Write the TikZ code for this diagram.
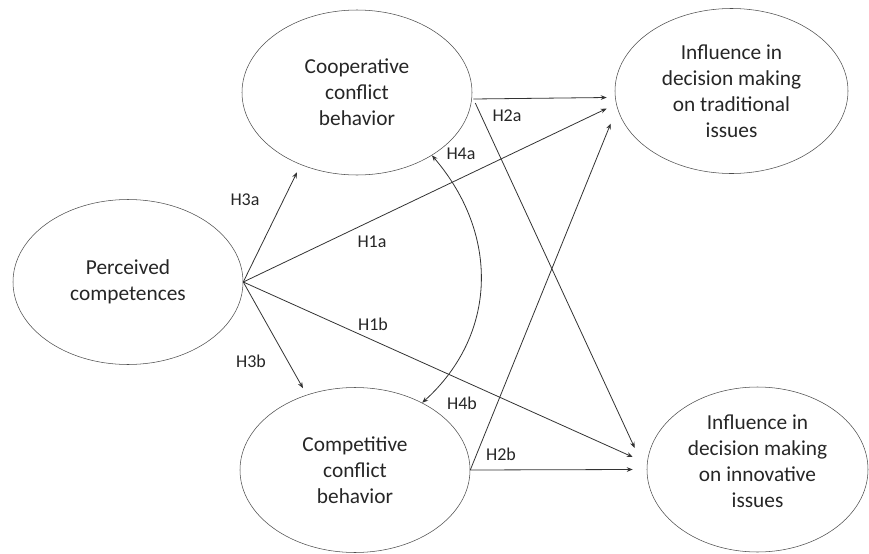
\documentclass[tikz,border=0pt]{standalone}
\usepackage{fontspec}
\setmainfont{Carlito}
\usetikzlibrary{shapes.geometric,arrows.meta}

\begin{document}
\begin{tikzpicture}[
  x=0.75pt, y=-0.75pt,
  font=\fontsize{16}{19.5}\selectfont,
  ell/.style={draw=black!70, ellipse, inner sep=0pt, align=center,
              text=black!85, minimum width=172.5pt, minimum height=123.75pt},
  arr/.style={->, >={Stealth[length=4.5pt, width=3.5pt]}, line width=0.6pt, black!80},
  hyp/.style={font=\fontsize{13.5}{16}\selectfont, text=black!85}
]
  \useasboundingbox (0,0) rectangle (869,554);

  \node[ell] (pc)   at (128,282)     {Perceived\\competences};
  \node[ell] (coop) at (357,92.5)    {Cooperative\\conflict\\behavior};
  \node[ell] (comp) at (355,470)     {Competitive\\conflict\\behavior};
  \node[ell, minimum width=174.75pt] (trad) at (731.5,91)
    {Influence in\\decision making\\on traditional\\issues};
  \node[ell, minimum width=165.75pt] (inno) at (757.5,469.5) {};
  \node[align=center, text=black!85] (innotxt) at (757.5,461.5)
    {Influence in\\decision making\\on innovative\\issues};

  %% perceived competences -> conflict behavior
  \draw[arr] (pc.east) -- ([shift={(-60,-3)}]coop.south);
  \draw[arr] (pc.east) -- ([shift={(-52,1)}]comp.north);

  %% perceived competences -> influence
  \draw[arr] (pc.east) -- ([shift={(-8,17.5)}]trad.west);
  \draw[arr] (pc.east) -- ([shift={(-14,-12.5)}]inno.west);

  %% cooperative -> influence
  \draw[arr] ([shift={(1,6.5)}]coop.east) -- ([shift={(-8,6.5)}]trad.west);
  \draw[arr] ([shift={(3,10.5)}]coop.east) -- ([shift={(-12,-21.5)}]inno.west);

  %% competitive -> influence
  \draw[arr] (comp.east) -- ([shift={(-4,32.5)}]trad.west);
  \draw[arr] (comp.east) -- ([shift={(-14,0)}]inno.west);

  %% cooperative <-> competitive
  \draw[arr, <->] (coop.-40) .. controls (500,235) and (497,335) .. (comp.45);

  \node[hyp] (h3a) at (245,200) {H3a};
  \node[hyp] (h1a) at (372,242) {H1a};
  \node[hyp] (h4a) at (461,154) {H4a};
  \node[hyp] (h2a) at (507,116) {H2a};
  \node[hyp] (h1b) at (373,324) {H1b};
  \node[hyp] (h3b) at (251,361) {H3b};
  \node[hyp] (h4b) at (462,403) {H4b};
  \node[hyp] (h2b) at (501,454) {H2b};
\end{tikzpicture}
\end{document}
